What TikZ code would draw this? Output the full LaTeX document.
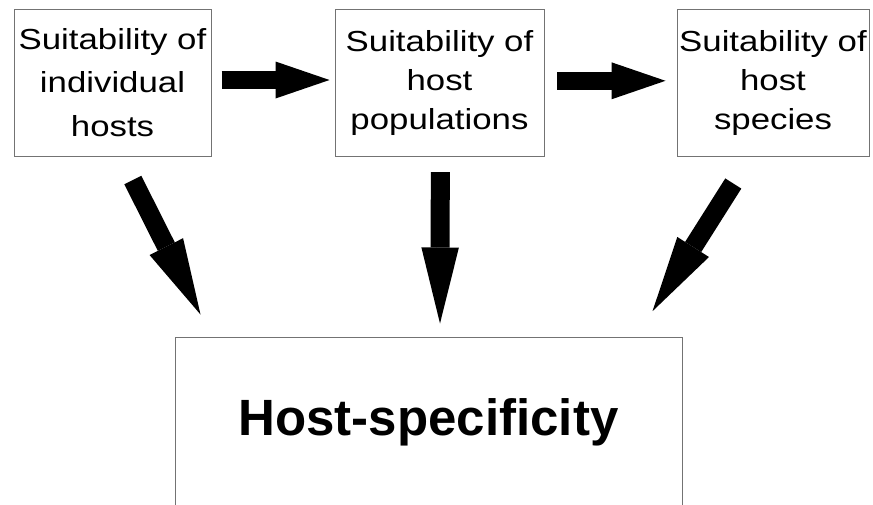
\documentclass[tikz,border=0pt]{standalone}
\usepackage{fontspec}
\usepackage{tikz}
\usetikzlibrary{arrows.meta}
\newfontfamily\boitefont[FakeStretch=1.2]{Liberation Sans}
\newfontfamily\grandfont{Liberation Sans}
\tikzset{
Boite/.style={
 draw=black!55,
 line width=1pt,
 inner sep=0pt,
 minimum height=147pt,
 align=center,
 font=\boitefont\fontsize{29}{#1}\selectfont
 },
Boite/.default={39},
GrandeBoite/.style={
 draw=black!55,
 line width=1pt,
 inner sep=0pt,
 font=\grandfont\bfseries\fontsize{51}{60}\selectfont
 },
CourteFleche/.style={
 draw=black,
 line width=18.3pt,
 -{Triangle[length=54pt,width=37pt,line width=0pt]}
 },
LongueFleche/.style={
 draw=black,
 line width=19pt,
 -{Triangle[length=76pt,width=37.5pt,line width=0pt]}
 }
}

\begin{document}
\begin{tikzpicture}[x=1pt,y=-1pt]
\useasboundingbox (0,0) rectangle (873,504);
\node[Boite=43.5,minimum width=197pt] (indiv) at (112.5,82.5) {Suitability of\\individual\\hosts};
\node[Boite,minimum width=209pt] (popul) at (439.5,82.5) {Suitability of\\host\\populations};
\node[Boite,minimum width=192pt] (espece) at (773,82.5) {Suitability of\\host\\species};
\node[GrandeBoite,minimum width=507pt,minimum height=170pt] (spec) at (428.5,422) {Host-specificity};
% fleches du haut
\draw[CourteFleche] ([xshift=10pt,yshift=2.5pt]indiv.east) -- ([xshift=-5pt,yshift=2.5pt]popul.west);
\draw[CourteFleche] ([xshift=12.7pt,yshift=1.7pt]popul.east) -- ([xshift=-11pt,yshift=1.7pt]espece.west);
% fleches vers le bas
\draw[LongueFleche] ([xshift=20.3pt,yshift=-23.5pt]indiv.south) -- ([xshift=26pt,yshift=22pt]spec.north west);
\draw[LongueFleche] ([xshift=0.8pt,yshift=-15.7pt]popul.south) -- ([xshift=11.5pt,yshift=13pt]spec.north);
\draw[LongueFleche] ([xshift=-39.7pt,yshift=-27pt]espece.south) -- ([xshift=-30pt,yshift=25.3pt]spec.north east);
\end{tikzpicture}
\end{document}
